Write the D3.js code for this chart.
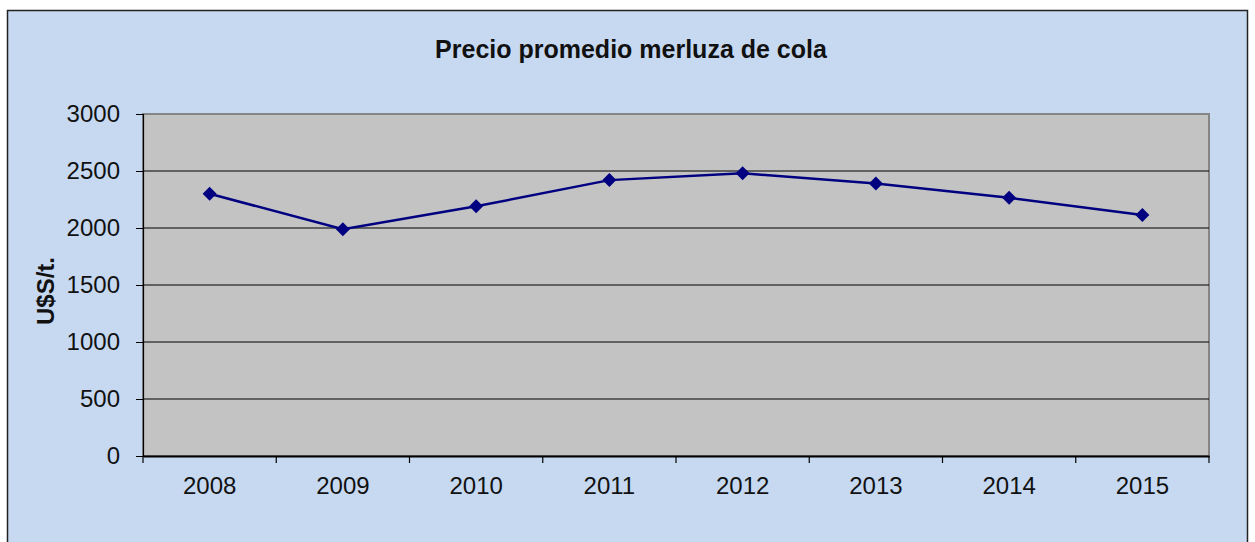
<!DOCTYPE html>
<html><head><meta charset="utf-8">
<script src="https://cdn.jsdelivr.net/npm/d3@7/dist/d3.min.js"></script>
<style>html,body{margin:0;padding:0;background:#fff;}svg{display:block;font-family:"Liberation Sans",Arial,sans-serif;}</style>
</head><body>
<script>
const categories = ["2008","2009","2010","2011","2012","2013","2014","2015"];
const prices = [2300, 1990, 2190, 2420, 2480, 2390, 2265, 2115];
const yTicks = [0, 500, 1000, 1500, 2000, 2500, 3000];
const title = "Precio promedio merluza de cola";
const yTitle = "U$S/t.";

const W = 1255, H = 542;
const svg = d3.select("body").append("svg").attr("width", W).attr("height", H);

// chart area
svg.append("rect").attr("x", 7.5).attr("y", 10.5).attr("width", 1240).attr("height", 540)
  .attr("fill", "#c6d9f1").attr("stroke", "#222").attr("stroke-width", 1.5);

const L = 143, R = 1209, T = 114, B = 456;
const x = d3.scaleBand().domain(categories).range([L, R]).paddingInner(0).paddingOuter(0);
const y = d3.scaleLinear().domain([0, 3000]).range([B, T]);

svg.append("rect").attr("x", L).attr("y", T).attr("width", R - L).attr("height", B - T)
  .attr("fill", "#c3c3c3").attr("stroke", "#858585").attr("stroke-width", 2);

// gridlines
svg.append("g").selectAll("line").data(yTicks.filter(d => d > 0 && d < 3000)).join("line")
  .attr("x1", L).attr("x2", R).attr("y1", d => y(d)).attr("y2", d => y(d))
  .attr("stroke", "#000").attr("stroke-width", 1.2);

// y axis
const yAxis = svg.append("g").attr("transform", `translate(${L},0)`)
  .call(d3.axisLeft(y).tickValues(yTicks).tickSize(7).tickPadding(16).tickFormat(d3.format("d")));
yAxis.select(".domain").attr("stroke", "#000").attr("stroke-width", 1.2);
yAxis.selectAll(".tick line").attr("stroke", "#000");
yAxis.selectAll("text").attr("font-size", 24).attr("fill", "#111").attr("font-family", "Liberation Sans, Arial, sans-serif");

// x axis
const xAxis = svg.append("g").attr("transform", `translate(0,${B})`)
  .call(d3.axisBottom(x).tickSize(0).tickPadding(21));
xAxis.select(".domain").attr("stroke", "#000").attr("stroke-width", 2);
xAxis.selectAll("text").attr("font-size", 24).attr("fill", "#111").attr("font-family", "Liberation Sans, Arial, sans-serif");
const bounds = categories.map(c => x(c)).concat([R]);
svg.append("g").selectAll("line").data(bounds).join("line")
  .attr("x1", d => d).attr("x2", d => d).attr("y1", B).attr("y2", B + 7)
  .attr("stroke", "#000").attr("stroke-width", 1.2);

// line
const cx = d => x(d) + x.bandwidth() / 2;
svg.append("path").datum(prices)
  .attr("d", d3.line().x((d, i) => cx(categories[i])).y(d => y(d)))
  .attr("fill", "none").attr("stroke", "#000080").attr("stroke-width", 2.5);
svg.append("g").selectAll("path").data(prices).join("path")
  .attr("transform", (d, i) => `translate(${cx(categories[i])},${y(d)})`)
  .attr("d", "M0,-7L7,0L0,7L-7,0Z").attr("fill", "#000080");

// titles
svg.append("text").attr("x", 631).attr("y", 58).attr("text-anchor", "middle")
  .attr("font-size", 25).attr("font-weight", "bold").attr("fill", "#111").text(title);
svg.append("text").attr("transform", "translate(54,291) rotate(-90)").attr("text-anchor", "middle")
  .attr("font-size", 24).attr("font-weight", "bold").attr("fill", "#111").text(yTitle);
</script>
</body></html>
